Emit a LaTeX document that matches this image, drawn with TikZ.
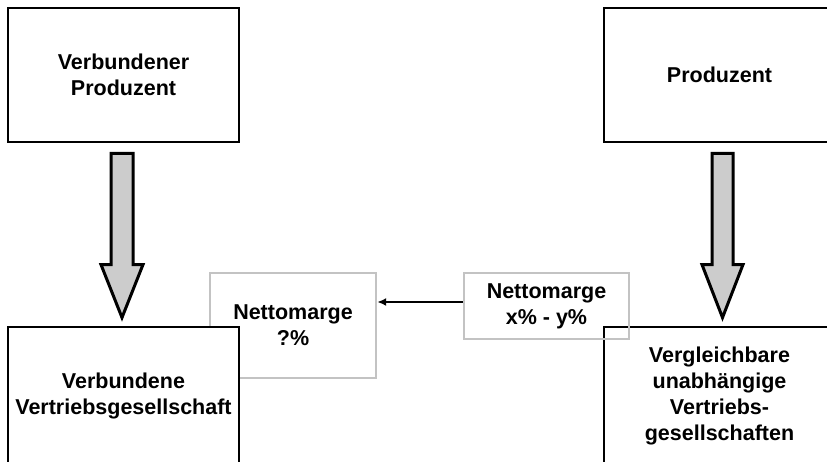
\documentclass[tikz,border=0pt]{standalone}
\usepackage{fontspec}
\setmainfont{Liberation Sans}
\usetikzlibrary{arrows.meta,calc}
\definecolor{framegray}{RGB}{195,195,195}
\definecolor{arrowfill}{RGB}{204,204,204}
\begin{document}
\begin{tikzpicture}[x=1pt,y=1pt,
  every node/.style={font=\bfseries\fontsize{21.5}{26}\selectfont, align=center, inner sep=0pt},
  entity/.style={draw=black, line width=2.8pt, fill=white, minimum width=231pt},
  margin/.style={draw=framegray, line width=2.4pt, minimum width=166pt},
  bigarrow/.style={draw=black, line width=3pt, fill=arrowfill, line join=miter},
  link/.style={draw=black, line width=1.8pt, -{Latex[length=9pt,width=8pt]}}]
\useasboundingbox (0,0) rectangle (827,461);
\clip (0,0) rectangle (827,461);

% net margin of the tested party
\node[margin, minimum height=105pt] (nm) at (293,135.5) {Nettomarge\\?\%};

% group companies (left) and independent companies (right)
\node[entity, minimum height=134pt] (lt) at (123.5,386) {Verbundener\\Produzent};
\node[entity, minimum height=138pt] (lb) at (123.5,65) {Verbundene\\Vertriebsgesellschaft};
\node[entity, minimum height=134pt] (rt) at (719.5,386) {Produzent};
\node[entity, minimum height=138pt] (rb) at (719.5,65) {Vergleichbare\\unabhängige\\Vertriebs-\\gesellschaften};

% net margin range of the comparables
\node[margin, minimum height=66pt, minimum width=165pt] (xy) at (546.5,155) {Nettomarge\\x\% - y\%};

% supply flow arrows: top centre and tip of each arrow
\coordinate (lA) at ([xshift=-1.5pt,yshift=-10pt]lt.south);
\coordinate (lT) at ([xshift=-1.5pt,yshift=8pt]lb.north);
\coordinate (rA) at ([xshift=3pt,yshift=-10pt]rt.south);
\coordinate (rT) at ([xshift=3pt,yshift=8pt]rb.north);

\path[bigarrow] (lT) -- ++(21,53) -- ++(-10,0) |- (lA) -- ++(-11,0)
  |- ($(lT)+(-21,53)$) -- cycle;
\path[bigarrow] (rT) -- ++(20.5,53) -- ++(-10,0) |- (rA) -- ++(-10.5,0)
  |- ($(rT)+(-20.5,53)$) -- cycle;

% transfer of the comparable margin
\draw[link] ([yshift=4pt]xy.west) -- ([yshift=4pt]xy.west -| nm.east);
\end{tikzpicture}
\end{document}
